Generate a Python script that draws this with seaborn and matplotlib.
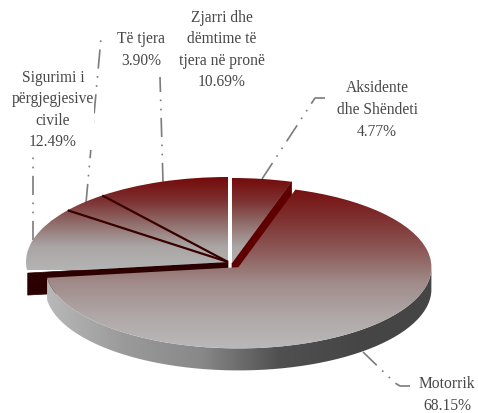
import numpy as np
import matplotlib
matplotlib.use("Agg")
import matplotlib.pyplot as plt
from matplotlib.path import Path
from matplotlib.patches import PathPatch
import seaborn as sns

names = ["Aksidente\ndhe Shëndeti", "Motorrik", "Sigurimi i\npërgjegjesive\ncivile", "Të tjera",
         "Zjarri dhe\ndëmtime të\ntjera në pronë"]
shares = [4.77, 68.15, 12.49, 3.90, 10.69]
explode = [0, 0.08, 0, 0, 0]

sns.set_theme(style="white")
plt.rcParams["font.family"] = ["Liberation Serif", "DejaVu Serif"]

W, H = 478, 413
SX, SY = 202.0, 85.0   # pixels per pie radius, horizontally and vertically (tilted view)
DEPTH = 22             # pixels of extrusion


def d(x, y):
    """Figure pixel (top-left origin) to data coordinates."""
    return x / SX, (H - y) / SY


fig = plt.figure(figsize=(W / 100, H / 100), dpi=100)
ax = fig.add_axes([0, 0, 1, 1])
wedges, _ = ax.pie(shares, explode=explode, startangle=90, counterclock=False,
                   radius=1.0, center=d(228, 262),
                   wedgeprops=dict(facecolor="none", edgecolor="none", linewidth=0))
ax.set_aspect("auto")
XLIM, YLIM = (0, W / SX), (0, H / SY)

w_aks, w_mot, w_sig, w_tje, w_zja = wedges
w_aks.set_center(d(232, 263))
w_mot.set_radius(193 / 202)

top_cmap = sns.blend_palette(["#750a0a", "#7c3030", "#906e6c", "#aaa6a5", "#b4b4b4"], as_cmap=True)
mot_cmap = sns.blend_palette(["#760c0c", "#7e3030", "#8c5a58", "#a08c8a", "#b0a8a7", "#b9b9b9"], as_cmap=True)
wall_cmap = sns.blend_palette(["#b8b8b8", "#9a9a9a", "#888888", "#505050", "#464646", "#454545"], as_cmap=True)


def fill_v(clip, cmap, y0, y1, z):
    """Vertical gradient between pixel rows y0 and y1, clipped to a patch."""
    _, top = d(0, y0)
    _, bot = d(0, y1)
    im = ax.imshow(np.linspace(0, 1, 256)[:, None], cmap=cmap, aspect="auto",
                   extent=(XLIM[0], XLIM[1], bot, top), origin="upper",
                   interpolation="bilinear", zorder=z)
    im.set_clip_path(clip)


def arc(w, a0, a1, n=120):
    t = np.radians(np.linspace(a0, a1, n))
    return np.c_[w.center[0] + w.r * np.cos(t), w.center[1] + w.r * np.sin(t)]


dz = DEPTH / SY


def spoke(w, angle):
    p = arc(w, angle, angle, 1)[0]
    return np.array([w.center, p])


def wall(points, color, z):
    pts = np.vstack([points, (points - [0, dz])[::-1], points[:1]])
    ax.add_patch(PathPatch(Path(pts), facecolor=color, edgecolor=color, lw=0.5, zorder=z))


# side walls exposed by the exploded slice
wall(spoke(w_sig, w_sig.theta2), "#2c0000", 2)
wall(spoke(w_aks, w_aks.theta1), "#5e0000", 2)

# top surfaces of the back slices
for w in (w_aks, w_sig, w_tje, w_zja):
    fill_v(w, top_cmap, 177, 270, 3)

# dark seams between the back slices
for w, a in ((w_sig, w_sig.theta1), (w_tje, w_tje.theta1)):
    s = spoke(w, a)
    ax.plot(s[:, 0], s[:, 1], color="#3a0000", lw=1.6, solid_capstyle="butt", zorder=4)

# rim of the big slice
a0 = w_mot.theta1 % 360
rim = arc(w_mot, a0, 360)
rim_pts = np.vstack([rim, (rim - [0, dz])[::-1], rim[:1]])
rim_patch = PathPatch(Path(rim_pts), facecolor="none", edgecolor="none", zorder=5)
ax.add_patch(rim_patch)
im = ax.imshow(np.linspace(0, 1, 256)[None, :], cmap=wall_cmap, aspect="auto",
               extent=(d(47, 0)[0], d(433, 0)[0], YLIM[0], YLIM[1]),
               interpolation="bilinear", zorder=5)
im.set_clip_path(rim_patch)

# top surface of the big slice
fill_v(w_mot, mot_cmap, 185, 349, 6)

# leader lines
leaders = [
    [(33, 240), (33, 150)],
    [(86, 203), (101, 38)],
    [(163, 182), (160, 77)],
    [(262, 179), (315, 98), (325, 98)],
    [(363, 352), (395, 383), (400, 386), (410, 386)],
]
for seq in leaders:
    xy = np.array([d(*p) for p in seq])
    ax.plot(xy[:, 0], xy[:, 1], color="#7c7c7c", lw=1.2, zorder=1,
            linestyle=(0, (11.5, 4.5, 1, 4.5, 1, 4.5)))

# labels
label_pos = [(377, 110), (447, 395), (53, 110), (141, 50), (222, 50)]
for name, share, pos in zip(names, shares, label_pos):
    x, y = d(*pos)
    ax.text(x, y, f"{name}\n{share:.2f}%", ha="center", va="center", color="#474747",
            fontsize=11.2, linespacing=1.46, zorder=7,
            bbox=dict(facecolor="white", edgecolor="none", pad=0))

ax.set_xlim(*XLIM)
ax.set_ylim(*YLIM)
ax.set_axis_off()
fig.savefig("out.png", dpi=100, facecolor="white")
